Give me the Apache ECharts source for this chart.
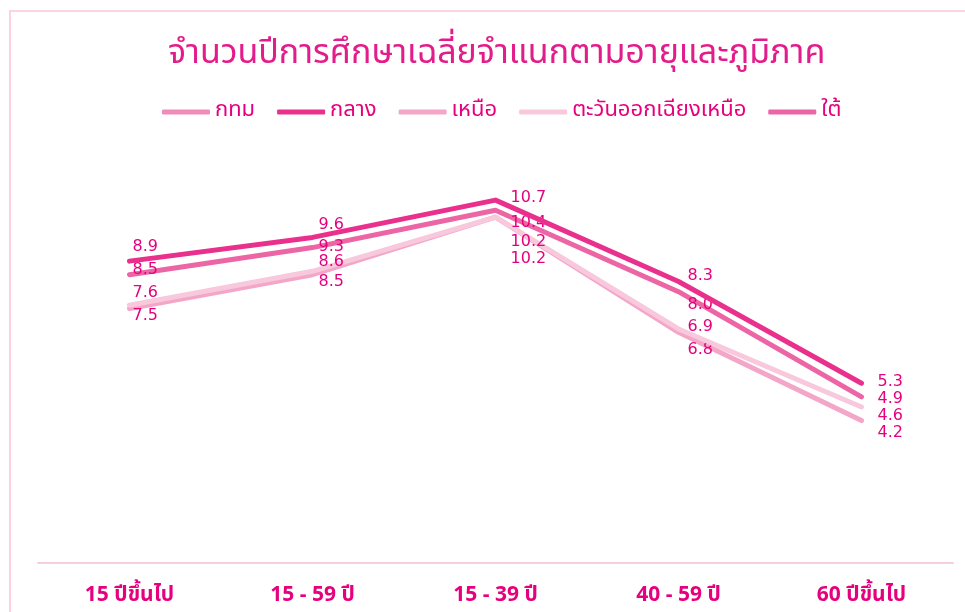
<!DOCTYPE html>
<html lang="th">
  <head>
    <meta charset="UTF-8" />
    <title>จำนวนปีการศึกษาเฉลี่ย</title>
    <script src="https://cdn.jsdelivr.net/npm/echarts@6/dist/echarts.min.js"></script>
    <style>
      html, body { margin: 0; padding: 0; background: #fff; }
      #main { width: 965px; height: 612px; }
    </style>
  </head>
  <body>
    <div id="main"></div>
    <script>
      // ข้อมูล
      var categories = ["15 ปีขึ้นไป", "15 - 59 ปี", "15 - 39 ปี", "40 - 59 ปี", "60 ปีขึ้นไป"];
      var bangkok = [null, null, null, null, null];
      var central = [8.9, 9.6, 10.7, 8.3, 5.3];
      var north = [7.5, 8.5, 10.2, 6.8, 4.2];
      var northeast = [7.6, 8.6, 10.2, 6.9, 4.6];
      var south = [8.5, 9.3, 10.4, 8.0, 4.9];

      // ตำแหน่งป้ายค่า (dx ตามหมวด, dy ต่อเส้น)
      var labelDx = [3, 6, 15, 9, 16];
      var labelDy = {
        "กทม": [0, 0, 0, 0, 0],
        "กลาง": [-14, -13, -2, -6, -1],
        "เหนือ": [7, 7, 42, 17, 12],
        "ตะวันออกเฉียงเหนือ": [-12, -9, 25, -2, 9],
        "ใต้": [-5, -1, 13, 13, 2],
      };

      var thaiFont = "Tahoma, 'Noto Sans Thai', 'Noto Sans', 'DejaVu Sans', sans-serif";
      var textColor = "#e6007e";

      function makeSeries(name, values, color, z) {
        return {
          name: name,
          type: "line",
          symbol: "circle",
          symbolSize: 0.1, // ต้องมี symbol ไม่งั้นป้ายไม่แสดง
          z: z,
          lineStyle: { color: color, width: 5, cap: "round", join: "round" },
          itemStyle: { color: color },
          label: {
            show: true,
            position: "right",
            distance: 0,
            color: textColor,
            fontSize: 16,
            fontFamily: "'DejaVu Sans', sans-serif",
            formatter: function (p) {
              return p.value.toFixed(1);
            },
          },
          data: values.map(function (v, i) {
            return { value: v, label: { offset: [labelDx[i], labelDy[name][i]] } };
          }),
        };
      }

      var myChart = echarts.init(document.getElementById("main"));
      var option = {
        backgroundColor: "#fff",
        animation: false,
        title: {
          text: "จำนวนปีการศึกษาเฉลี่ยจำแนกตามอายุและภูมิภาค",
          left: 163,
          top: 34,
          textStyle: {
            color: "#e31c8c",
            fontSize: 34,
            fontWeight: "normal",
            fontFamily: thaiFont,
          },
        },
        legend: {
          top: 96,
          left: 157,
          icon: "roundRect",
          itemWidth: 48,
          itemHeight: 5,
          itemGap: 22,
          textStyle: { color: textColor, fontSize: 22, fontFamily: thaiFont },
          data: ["กทม", "กลาง", "เหนือ", "ตะวันออกเฉียงเหนือ", "ใต้"],
        },
        graphic: [
          {
            type: "rect",
            shape: { x: 10, y: 11, width: 970, height: 620 },
            style: { fill: "none", stroke: "#fbd3e3", lineWidth: 2 },
            silent: true,
          },
        ],
        grid: { left: 38, right: 12, top: 156, bottom: 49 },
        xAxis: {
          type: "category",
          data: categories,
          axisLine: { show: true, lineStyle: { color: "#f8cde0", width: 2 } },
          axisTick: { show: false },
          axisLabel: {
            color: textColor,
            fontSize: 21,
            fontWeight: "bold",
            fontFamily: thaiFont,
            margin: 23,
          },
        },
        yAxis: {
          type: "value",
          min: 0,
          max: 12,
          show: false,
          splitLine: { show: false },
        },
        series: [
          makeSeries("กทม", bangkok, "#f08cba", 2),
          makeSeries("เหนือ", north, "#f4a6c9", 3),
          makeSeries("ตะวันออกเฉียงเหนือ", northeast, "#f8c8dc", 4),
          makeSeries("ใต้", south, "#ec65a4", 5),
          makeSeries("กลาง", central, "#e8308c", 6),
        ],
      };
      myChart.setOption(option);
    </script>
  </body>
</html>
